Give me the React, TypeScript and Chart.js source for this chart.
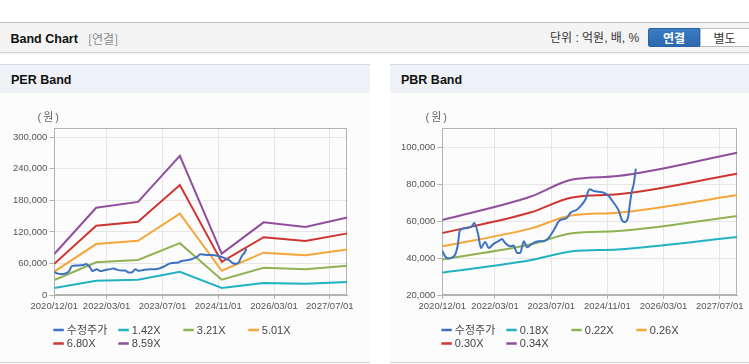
import React, { useEffect, useRef } from 'react';
import Chart from 'chart.js/auto';

const FONT = '"Liberation Sans", Arial, "Noto Sans CJK KR", sans-serif';

// x axis: months since 2020/12/01
const tickMonths = [0, 15, 31, 47, 63, 79];
const tickLabels = ['2020/12/01', '2022/03/01', '2023/07/01', '2024/11/01', '2026/03/01', '2027/07/01'];

// 수정주가 (adjusted price)
const priceMonths = [0, 0.8, 1.7, 2.7, 3.8, 4.4, 5, 6.5, 8.3, 9.1, 10.2, 11, 12.2, 13.2, 14.6, 16, 17, 17.9, 19.4, 20.3, 21.3, 22.2, 23.2, 24.1, 25.5, 27.4, 28.8, 30.3, 31.7, 33.2, 34.1, 35.5, 36.5, 38.4, 39.8, 40.8, 41.9, 43.1, 44.5, 45.9, 47.4, 48.8, 50.2, 51.2, 51.9, 52.9, 53.4, 53.9, 54.5, 55.1];
const priceValues = [44000, 41000, 39800, 40200, 42500, 47000, 55000, 56200, 57000, 59000, 53000, 45500, 48800, 45500, 47700, 49200, 50400, 48200, 46400, 46800, 42800, 42800, 49200, 45900, 47700, 49200, 49200, 51000, 55000, 60100, 61000, 61900, 64600, 66400, 69200, 71900, 77300, 76400, 76000, 75500, 73700, 70000, 65900, 60400, 59600, 62200, 69200, 75500, 80100, 88500];

// PER band
const perMonths = [0, 12, 24, 36, 48, 60, 72, 84];
const per142 = [13300, 27000, 29000, 44000, 13300, 22800, 21300, 24800];
const per321 = [28600, 62100, 66500, 98600, 29000, 51800, 48900, 55500];
const per501 = [44500, 96800, 103100, 154800, 46100, 80500, 75800, 86600];
const per680 = [59500, 131600, 139200, 209200, 63000, 110000, 102600, 117200];
const per859 = [78000, 165800, 177100, 264500, 78700, 138200, 129400, 147500];
const perLabels = ['1.42X', '3.21X', '5.01X', '6.80X', '8.59X'];
const perTicks = [0, 60000, 120000, 180000, 240000, 300000];

// PBR band
const pbrMonths = [0, 25, 37, 50, 84];
const pbr018 = [32100, 38800, 43700, 44700, 51400];
const pbr022 = [39300, 47400, 53500, 54700, 62800];
const pbr026 = [46400, 56000, 63200, 64600, 74200];
const pbr030 = [53600, 64700, 72900, 74600, 85700];
const pbr034 = [60700, 73300, 82600, 84500, 97100];
const pbrLabels = ['0.18X', '0.22X', '0.26X', '0.30X', '0.34X'];
const pbrTicks = [20000, 40000, 60000, 80000, 100000];

const priceLabel = '수정주가';
const bandColors = ['#22b2c2', '#8fb252', '#f5a63a', '#cf3530', '#8f4f9c'];
const priceColor = '#3d72c2';

function xy(months: number[], values: number[]) {
  return months.map((m, i) => ({ x: m, y: values[i] }));
}

function buildDatasets(bandMonths: number[], bands: number[][], labels: string[], smooth: boolean) {
  const ds: any[] = [
    {
      label: priceLabel,
      data: xy(priceMonths, priceValues),
      borderColor: priceColor,
      backgroundColor: priceColor,
      borderWidth: 2,
      cubicInterpolationMode: 'monotone',
    },
  ];
  bands.forEach((b, i) => {
    const d: any = {
      label: labels[i],
      data: xy(bandMonths, b),
      borderColor: bandColors[i],
      backgroundColor: bandColors[i],
      borderWidth: 2,
    };
    if (smooth) d.cubicInterpolationMode = 'monotone';
    ds.push(d);
  });
  return ds;
}

type BoxProps = {
  width: number;
  height: number;
  datasets: any[];
  yMin: number;
  yMax: number;
  yTicks: number[];
  yWidth: number;
  padRight: number;
};

function BandChart({ width, height, datasets, yMin, yMax, yTicks, yWidth, padRight }: BoxProps) {
  const ref = useRef<HTMLCanvasElement | null>(null);
  useEffect(() => {
    if (!ref.current) return;
    const decor = {
      id: 'decor',
      beforeDatasetsDraw(chart: any) {
        const { ctx, chartArea: a } = chart;
        ctx.save();
        ctx.strokeStyle = '#b3b3b3';
        ctx.lineWidth = 1;
        const l = Math.round(a.left) + 0.5;
        const t = Math.round(a.top) + 0.5;
        const r = Math.round(a.right) - 0.5;
        const b = Math.round(a.bottom) - 0.5;
        ctx.strokeRect(l, t, r - l, b - t);
        ctx.restore();
      },
      afterDraw(chart: any) {
        const { ctx, chartArea: a } = chart;
        ctx.save();
        ctx.fillStyle = '#666';
        ctx.font = '11px ' + FONT;
        ctx.textAlign = 'center';
        ctx.textBaseline = 'middle';
        try {
          (ctx as any).letterSpacing = '2px';
        } catch (e) {}
        ctx.fillText('(원)', a.left - 5, a.top - 10);
        try {
          (ctx as any).letterSpacing = '0px';
        } catch (e) {}
        // legend in fixed columns
        const ds = chart.data.datasets;
        ds.forEach((d: any, i: number) => {
          const col = i % 4;
          const row = Math.floor(i / 4);
          const x = a.left - 1 + col * 65;
          const y = a.bottom + 35 + row * 13.5;
          ctx.strokeStyle = d.borderColor;
          ctx.lineWidth = 2.5;
          ctx.beginPath();
          ctx.moveTo(x, y);
          ctx.lineTo(x + 10.5, y);
          ctx.stroke();
          ctx.fillStyle = '#444';
          ctx.font = '11px ' + FONT;
          ctx.textAlign = 'left';
          ctx.textBaseline = 'middle';
          ctx.fillText(d.label, x + 13.5, y + 0.5);
        });
        ctx.restore();
      },
    };
    const chart = new Chart(ref.current, {
      type: 'line',
      data: { datasets },
      options: {
        animation: false,
        responsive: false,
        maintainAspectRatio: false,
        layout: { padding: { left: 0, right: padRight, top: 34.3, bottom: 47 } },
        plugins: { legend: { display: false }, tooltip: { enabled: false } },
        elements: { point: { radius: 0 }, line: { tension: 0 } },
        scales: {
          x: {
            type: 'linear',
            min: 0,
            max: 84,
            afterBuildTicks: (ax: any) => {
              ax.ticks = tickMonths.map((v) => ({ value: v }));
            },
            afterFit: (ax: any) => {
              ax.height = 20;
            },
            ticks: {
              autoSkip: false,
              maxRotation: 0,
              padding: 2,
              color: '#555',
              font: { size: 9.5, family: FONT },
              callback: (v: any) => {
                const i = tickMonths.indexOf(Number(v));
                return i >= 0 ? tickLabels[i] : '';
              },
            },
            grid: { color: '#e6e6e6', tickColor: '#b3b3b3', tickLength: 4 },
            border: { color: '#b3b3b3' },
          },
          y: {
            type: 'linear',
            min: yMin,
            max: yMax,
            afterBuildTicks: (ax: any) => {
              ax.ticks = yTicks.map((v) => ({ value: v }));
            },
            afterFit: (ax: any) => {
              ax.width = yWidth;
            },
            ticks: {
              padding: 2,
              color: '#555',
              font: { size: 9.5, family: FONT },
              callback: (v: any) => Number(v).toLocaleString('en-US'),
            },
            grid: { color: '#e6e6e6', tickColor: '#b3b3b3', tickLength: 5 },
            border: { color: '#b3b3b3' },
          },
        },
      } as any,
      plugins: [decor],
    } as any);
    return () => chart.destroy();
  }, []);
  return <canvas ref={ref} width={width} height={height} style={{ display: 'block', width, height }} />;
}

function Panel({ left, width, title, children }: { left: number; width: number; title: string; children: any }) {
  return (
    <div
      style={{
        position: 'absolute',
        left,
        top: 64,
        width,
        height: 299,
        background: '#fcfcfc',
        borderTop: '1px solid #d9d9d9',
        borderBottom: '1px solid #cfcfcf',
        boxSizing: 'border-box',
      }}
    >
      <div
        style={{
          height: 28,
          background: '#eef2f7',
          display: 'flex',
          alignItems: 'center',
          paddingLeft: 11,
          paddingTop: 1,
          boxSizing: 'border-box',
          fontWeight: 'bold',
          fontSize: 12.5,
          color: '#111',
          fontFamily: FONT,
        }}
      >
        {title}
      </div>
      <div style={{ position: 'absolute', left: 0, top: 29 }}>{children}</div>
    </div>
  );
}

export default function App() {
  useEffect(() => {
    document.body.style.margin = '0';
  }, []);
  const perDs = buildDatasets(perMonths, [per142, per321, per501, per680, per859], perLabels, false);
  const pbrDs = buildDatasets(pbrMonths, [pbr018, pbr022, pbr026, pbr030, pbr034], pbrLabels, true);
  return (
    <div style={{ position: 'relative', width: 749, height: 364, background: '#fff', overflow: 'hidden', fontFamily: FONT }}>
      <div
        style={{
          position: 'absolute',
          left: 0,
          top: 22,
          width: 749,
          height: 31,
          background: '#f4f4f4',
          borderTop: '1px solid #c2c2c2',
          borderBottom: '1px solid #d2d2d2',
          boxShadow: '0 1px 2px rgba(0,0,0,0.08)',
          boxSizing: 'border-box',
        }}
      >
        <span style={{ position: 'absolute', left: 10.5, top: 8.5, fontWeight: 'bold', fontSize: 12.5, color: '#111' }}>Band Chart</span>
        <span style={{ position: 'absolute', left: 88, top: 8, fontSize: 12, color: '#8a8a8a', fontFamily: '"Noto Sans CJK KR", sans-serif', lineHeight: '15px' }}>[연결]</span>
        <span style={{ position: 'absolute', left: 550, top: 8, fontSize: 12, color: '#333', fontFamily: '"Liberation Sans", "Noto Sans CJK KR", sans-serif', lineHeight: '15px' }}>단위 : 억원, 배, %</span>
        <div
          style={{
            position: 'absolute',
            left: 648,
            top: 5,
            width: 52,
            height: 19,
            background: 'linear-gradient(#3a7cc4, #2c68ad)',
            borderRadius: '2px 0 0 2px',
            color: '#fff',
            fontWeight: 'bold',
            fontSize: 12,
            display: 'flex',
            alignItems: 'center',
            justifyContent: 'center',
            fontFamily: '"Noto Sans CJK KR", sans-serif',
            boxSizing: 'border-box',
            border: '1px solid #2a62a3',
          }}
        >
          연결
        </div>
        <div
          style={{
            position: 'absolute',
            left: 700,
            top: 5,
            width: 52,
            height: 19,
            background: '#fff',
            color: '#333',
            fontSize: 12,
            display: 'flex',
            alignItems: 'center',
            justifyContent: 'center',
            paddingRight: 3,
            fontFamily: '"Noto Sans CJK KR", sans-serif',
            boxSizing: 'border-box',
            border: '1px solid #bdbdbd',
          }}
        >
          별도
        </div>
      </div>
      <Panel left={0} width={370} title="PER Band">
        <BandChart width={370} height={268} datasets={perDs} yMin={0} yMax={317000} yTicks={perTicks} yWidth={54.3} padRight={22.7} />
      </Panel>
      <Panel left={390} width={359} title="PBR Band">
        <BandChart width={359} height={268} datasets={pbrDs} yMin={20000} yMax={110400} yTicks={pbrTicks} yWidth={52.3} padRight={11.7} />
      </Panel>
    </div>
  );
}
